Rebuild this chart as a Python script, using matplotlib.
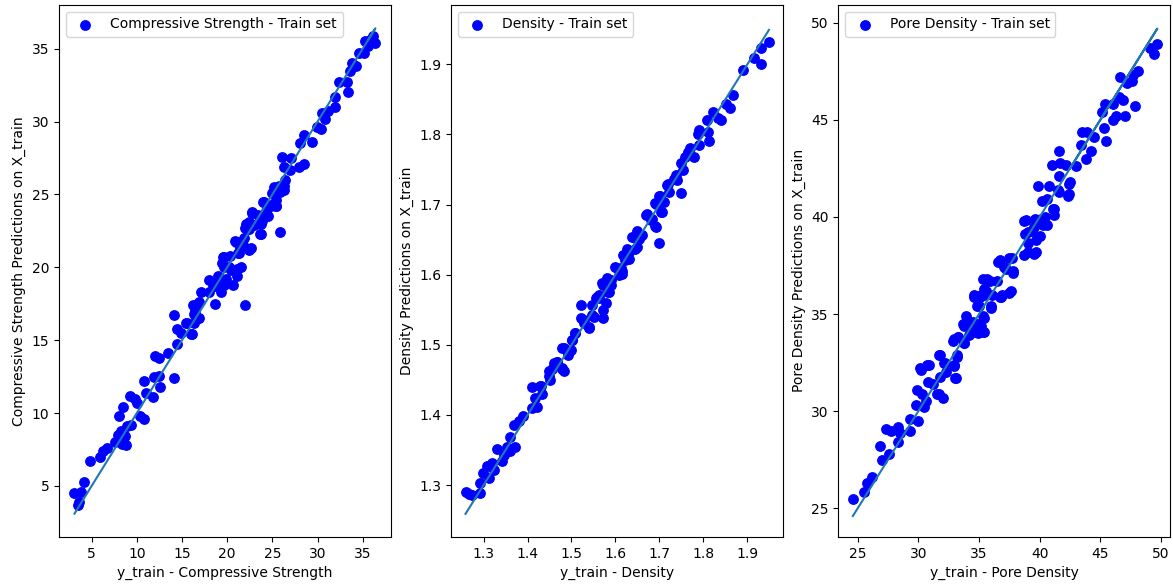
import matplotlib
matplotlib.use("Agg")
import matplotlib.pyplot as plt
import numpy as np

# ---------------- Compressive Strength ----------------
cs_true = [3.1, 3.8, 3.5, 3.6, 4.2, 4.8, 5.9, 6.3, 6.7, 8.0, 8.5, 7.9, 7.6, 8.2, 8.5, 8.7, 8.8, 8.4,
           9.2, 9.4, 8.9, 9.8, 10.0, 10.3, 10.8, 10.8, 11.0, 11.8, 11.9, 12.5, 12.6, 12.0, 12.5, 13.5,
           14.4, 14.1, 14.1, 14.4, 14.9, 15.5, 16.1, 16.3, 16.2, 16.6, 16.9, 16.3, 16.9, 17.1, 18.7,
           22.0, 19.3, 18.0, 15.4, 16.0, 16.4, 16.8, 18.0, 18.6, 19.0, 18.4, 19.3, 20.6, 21.05, 19.9,
           19.7, 19.5, 20.3, 21.5, 20.4, 21.0, 21.2, 21.4, 22.4, 21.9, 22.4, 22.0, 23.6, 22.4, 22.8,
           23.4, 23.7, 25.8, 23.0, 24.0, 24.3, 24.8, 25.4, 25.2, 25.7, 26.1, 26.3, 25.0, 19.4, 19.6,
           20.2, 21.1, 19.7, 20.9, 21.7, 21.3, 22.25, 22.6, 22.1, 22.8, 23.7, 23.7, 24.3, 23.9, 24.1,
           24.8, 24.55, 25.4, 25.3, 25.7, 26.3, 26.45, 25.9, 25.4, 26.1, 27.1, 26.3, 27.0, 27.9, 28.5,
           28.1, 28.5, 29.4, 29.9, 30.4, 30.5, 31.2, 30.8, 31.9, 31.9, 32.4, 33.3, 33.4, 33.6, 33.8,
           34.3, 34.6, 35.1, 35.2, 35.8, 36.1, 36.4, 35.6]
cs_pred = [4.5, 4.6, 3.7, 3.9, 5.3, 6.7, 7.0, 7.4, 7.6, 9.8, 10.4, 8.5, 8.0, 8.8, 8.2, 8.4, 7.8, 7.9,
           11.2, 9.2, 9.1, 11.0, 10.7, 9.8, 9.6, 12.2, 11.4, 11.1, 12.5, 12.55, 11.8, 13.9, 13.8, 14.1,
           14.75, 16.7, 12.4, 15.75, 15.5, 16.2, 15.4, 16.2, 17.4, 17.4, 17.65, 16.8, 16.5, 18.3, 17.5,
           17.4, 18.3, 18.3, 16.2, 15.4, 17.0, 16.5, 19.1, 18.7, 19.4, 18.8, 19.0, 18.8, 19.4, 19.2,
           20.0, 20.7, 20.8, 20.0, 19.8, 21.75, 21.0, 21.3, 21.2, 22.0, 22.6, 22.7, 22.3, 23.1, 23.8,
           23.6, 23.0, 22.4, 22.9, 24.5, 23.5, 24.3, 24.2, 25.5, 25.6, 25.6, 25.3, 25.1, 20.3, 20.7,
           20.0, 19.9, 18.8, 21.8, 21.5, 21.0, 22.6, 21.3, 23.0, 23.7, 23.4, 22.3, 23.9, 23.2, 24.5,
           24.2, 23.5, 24.2, 25.0, 25.5, 25.6, 26.0, 25.2, 24.6, 27.6, 27.5, 26.9, 26.7, 26.9, 27.1,
           28.5, 29.1, 28.6, 29.6, 29.5, 30.6, 30.7, 30.2, 31.0, 31.7, 32.7, 32.7, 32.0, 33.5, 34.0,
           33.8, 34.7, 34.7, 35.5, 35.6, 35.9, 35.4, 35.2]

# ---------------- Density ----------------
de_true = [1.259, 1.268, 1.274, 1.291, 1.293, 1.298, 1.308, 1.312, 1.319, 1.323, 1.331, 1.341, 1.346,
           1.354, 1.361, 1.361, 1.372, 1.369, 1.381, 1.390, 1.410, 1.410, 1.421, 1.418, 1.430, 1.432,
           1.449, 1.452, 1.460, 1.467, 1.479, 1.483, 1.479, 1.491, 1.498, 1.502, 1.509, 1.521, 1.521,
           1.529, 1.540, 1.547, 1.551, 1.555, 1.563, 1.571, 1.572, 1.578, 1.582,
           1.429, 1.448, 1.455, 1.467, 1.479, 1.482, 1.493, 1.501, 1.508, 1.528, 1.539, 1.547, 1.562,
           1.570, 1.581, 1.589, 1.603, 1.614, 1.621, 1.630, 1.645, 1.649, 1.661, 1.671, 1.691, 1.683,
           1.691, 1.701, 1.706, 1.717, 1.732,
           1.559, 1.571, 1.582, 1.589, 1.585, 1.599, 1.612, 1.616, 1.608, 1.618, 1.627, 1.631, 1.638,
           1.650, 1.654, 1.644, 1.669, 1.680, 1.692, 1.700, 1.692, 1.699, 1.703, 1.711, 1.719, 1.722,
           1.737, 1.741, 1.749, 1.748, 1.753, 1.759, 1.764, 1.770, 1.779, 1.787, 1.791, 1.791, 1.810,
           1.812, 1.808, 1.821, 1.833, 1.840, 1.852, 1.861, 1.868, 1.890, 1.916, 1.931, 1.931, 1.949]
de_pred = [1.290, 1.288, 1.286, 1.303, 1.289, 1.317, 1.327, 1.310, 1.331, 1.322, 1.351, 1.334, 1.343,
           1.355, 1.369, 1.348, 1.355, 1.386, 1.391, 1.398, 1.440, 1.410, 1.412, 1.424, 1.441, 1.430,
           1.462, 1.450, 1.474, 1.476, 1.467, 1.462, 1.495, 1.486, 1.493, 1.507, 1.517, 1.557, 1.538,
           1.531, 1.524, 1.557, 1.540, 1.567, 1.571, 1.538, 1.550, 1.560, 1.576,
           1.441, 1.455, 1.465, 1.475, 1.465, 1.495, 1.491, 1.507, 1.517, 1.536, 1.526, 1.543, 1.567,
           1.588, 1.595, 1.593, 1.610, 1.605, 1.621, 1.633, 1.652, 1.640, 1.657, 1.686, 1.669, 1.679,
           1.702, 1.712, 1.690, 1.728, 1.736,
           1.568, 1.585, 1.592, 1.585, 1.575, 1.611, 1.609, 1.601, 1.599, 1.628, 1.637, 1.623, 1.654,
           1.663, 1.651, 1.637, 1.685, 1.678, 1.668, 1.645, 1.701, 1.712, 1.690, 1.704, 1.730, 1.718,
           1.742, 1.735, 1.716, 1.759, 1.749, 1.768, 1.775, 1.780, 1.768, 1.801, 1.785, 1.806, 1.804,
           1.790, 1.820, 1.832, 1.823, 1.820, 1.844, 1.837, 1.856, 1.892, 1.909, 1.901, 1.923, 1.932]

# ---------------- Pore Density ----------------
pd_true = [24.6, 25.55, 25.8, 26.2, 26.8, 27.0, 27.3, 27.6, 27.75, 28.3, 28.3, 28.5, 29.3, 29.3, 29.9,
           29.8, 30.0, 30.1, 30.9, 30.3, 30.6, 30.5, 30.8, 31.2, 31.5, 31.7, 32.0, 31.7, 31.8, 32.3,
           32.15, 32.9, 33.0, 32.85, 33.25, 33.2, 33.7, 34.0, 33.8, 34.2, 34.5, 34.6, 34.9, 35.2, 35.4,
           35.0, 35.45, 36.0, 35.2, 35.6, 36.7, 37.5,
           35.05, 35.4, 35.9, 36.1, 36.8, 36.6, 37.25, 37.7, 37.8, 38.7, 39.5, 38.7, 38.8, 39.05, 39.4,
           39.7, 39.6, 40.3, 40.4, 39.9, 40.2, 41.1, 41.2, 41.0, 41.6, 41.6, 41.6, 41.7, 42.2, 42.4,
           42.3, 43.0, 43.4, 43.5, 43.9, 43.85, 44.2, 44.5, 45.1, 45.4, 45.3, 45.5, 46.05, 46.05, 46.3,
           46.55, 46.9, 47.0, 47.9, 46.6, 47.2, 47.6, 47.7, 48.1, 49.1, 49.4, 49.7,
           30.7, 30.2, 31.8, 32.2, 33.1, 32.9, 33.2, 32.9, 33.3, 33.75, 33.9, 33.75, 34.3, 34.7, 35.3,
           35.0, 35.3, 34.85, 35.4, 34.6, 36.0, 36.9, 37.6, 35.3, 35.7, 36.5, 37.1, 36.7, 37.5, 37.8,
           39.0, 39.7, 39.0, 39.5, 40.0, 40.1, 40.6, 38.9, 41.2, 40.6, 40.8, 42.4, 41.5, 42.5]
pd_pred = [25.5, 25.84, 26.3, 26.6, 28.2, 27.5, 29.1, 27.8, 29.0, 29.2, 28.4, 28.85, 29.0, 29.6, 31.1,
           30.3, 29.5, 32.2, 32.4, 30.9, 30.5, 30.2, 31.5, 31.4, 30.9, 30.9, 30.7, 32.9, 31.75, 32.0,
           32.5, 32.3, 31.7, 33.6, 33.8, 32.8, 34.5, 34.7, 33.5, 33.9, 34.6, 35.9, 34.0, 34.4, 34.1,
           35.4, 34.8, 35.3, 36.0, 36.2, 35.9, 36.1,
           35.9, 36.3, 36.7, 36.0, 35.9, 37.7, 37.3, 37.9, 37.1, 38.05, 38.1, 39.8, 39.1, 38.65, 39.3,
           38.8, 39.9, 39.6, 40.0, 41.6, 40.8, 40.4, 40.1, 42.65, 43.4, 42.1, 41.3, 42.8, 42.7, 41.7,
           41.1, 42.6, 43.7, 44.4, 44.35, 43.0, 43.4, 44.1, 45.4, 45.8, 44.6, 43.9, 45.8, 45.0, 45.2,
           46.2, 46.0, 45.2, 45.7, 47.2, 46.9, 47.0, 47.3, 47.5, 48.7, 48.4, 48.9,
           32.4, 32.1, 32.9, 32.5, 31.7, 32.4, 32.9, 33.7, 33.8, 33.5, 34.9, 34.4, 34.35, 34.1, 34.1,
           34.5, 34.9, 35.4, 36.0, 36.0, 35.4, 36.0, 36.2, 36.8, 36.8, 36.7, 37.4, 37.8, 37.9, 37.2,
           38.2, 38.2, 39.2, 39.5, 39.0, 39.9, 39.6, 39.85, 40.4, 40.9, 41.6, 41.2, 41.4, 41.8]

panels = [
    (cs_true, cs_pred, "Compressive Strength", (1.39, 38.13), (1.50, 38.02), [5, 10, 15, 20, 25, 30, 35]),
    (de_true, de_pred, "Density", (1.226, 1.981), (1.226, 1.985), [1.3, 1.4, 1.5, 1.6, 1.7, 1.8, 1.9]),
    (pd_true, pd_pred, "Pore Density", (23.40, 50.77), (23.52, 50.93), [25, 30, 35, 40, 45, 50]),
]

W, H = 1173, 585
fig = plt.figure(figsize=(W / 100, H / 100), dpi=100)
lefts = [59, 451, 838.3]
ax_w = 332
bottom_px = 537
top_px = 4.7

for (yt, yp, name, xl, yl, ticks), lp in zip(panels, lefts):
    ax = fig.add_axes([lp / W, (H - bottom_px) / H, ax_w / W, (bottom_px - top_px) / H])
    ax.scatter(yt, yp, color="blue", s=46, label=f"{name} - Train set")
    ax.plot(yt, yt)
    ax.set_xlim(*xl)
    ax.set_ylim(*yl)
    ax.set_xticks(ticks)
    ax.set_yticks(ticks)
    ax.set_xlabel(f"y_train - {name}")
    ax.set_ylabel(f"{name} Predictions on X_train")
    ax.legend(loc="upper left")

fig.savefig("out.png", dpi=100)
